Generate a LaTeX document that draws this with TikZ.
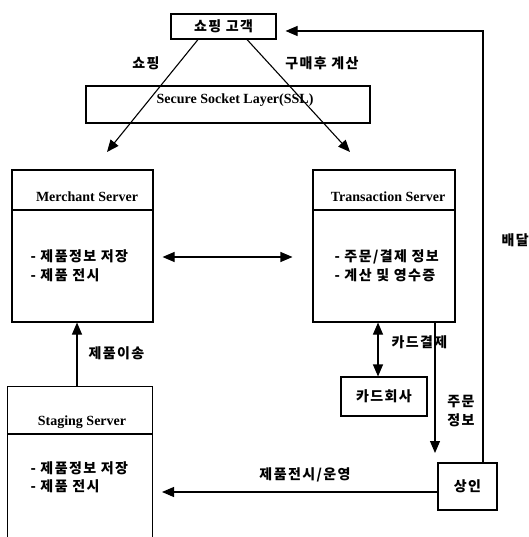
\documentclass[tikz,border=0pt]{standalone}
\usepackage{fontspec}
\setmainfont{Liberation Serif}
\newfontfamily\kr[LetterSpace=10]{Noto Sans CJK KR}
\usetikzlibrary{arrows.meta}

\tikzset{
  box/.style={draw, line width=1.1pt, inner sep=0pt},
  title/.style={font=\bfseries\fontsize{14}{16}\selectfont},
  kor/.style={font=\kr\bfseries\fontsize{14}{18.5}\selectfont},
  arr/.style={line width=1.1pt, -{Triangle[length=12pt,width=10pt]}},
  arrboth/.style={line width=1.1pt, {Triangle[length=12pt,width=10pt]}-{Triangle[length=12pt,width=10pt]}}
}

\begin{document}
\begin{tikzpicture}[x=1pt,y=-1pt]
    \useasboundingbox (0,0) rectangle (528,537);

    \node [box, kor, minimum width=105pt, minimum height=25pt] (customer) at (223.5,26.5) {쇼핑 고객};
    \node [box, minimum width=284pt, minimum height=37pt] (ssl) at (228,104.5) {};
    \node [title] (ssltext) at (235,100) {Secure Socket Layer(SSL)};

    \node [box, minimum width=141pt, minimum height=152pt] (merchant) at (82.5,246) {};
    \draw [line width=1.1pt] (merchant.west |- 0,210) -- (merchant.east |- 0,210);
    \node [title] (mtitle) at (87,197) {Merchant Server};
    \node [kor, anchor=west, align=left] (mtext) at (27,266) {- 제품정보 저장\\- 제품 전시};

    \node [box, minimum width=142pt, minimum height=152pt] (transaction) at (384,246) {};
    \draw [line width=1.1pt] (transaction.west |- 0,210) -- (transaction.east |- 0,210);
    \node [title] (ttitle) at (388,197) {Transaction Server};
    \node [kor, anchor=west, align=left] (ttext) at (331,266) {- 주문/결제 정보\\- 계산 및 영수증};

    \node [box, kor, minimum width=86pt, minimum height=39pt] (cardco) at (384,396.5) {카드회사};
    \node [box, kor, minimum width=59pt, minimum height=47pt] (seller) at (467.5,486.5) {상인};

    \node [minimum width=144pt, minimum height=150pt, inner sep=0pt] (staging) at (80,462) {};
    \draw [line width=1.1pt] (staging.south west) -- (staging.north west) -- (staging.north east) -- (staging.south east);
    \draw [line width=1.1pt] (staging.west |- 0,434) -- (staging.east |- 0,434);
    \node [title] (stitle) at (82,422) {Staging Server};
    \node [kor, anchor=west, align=left] (stext) at (27,477.5) {- 제품정보 저장\\- 제품 전시};

    \coordinate (shopEnd) at (107,152);
    \coordinate (payEnd) at (350,152);
    \draw [arr] ([xshift=-25.5pt]customer.south) -- (shopEnd);
    \draw [arr] ([xshift=23.5pt]customer.south) -- (payEnd);
    \node [kor] (shoplabel) at (146,63) {쇼핑};
    \node [kor] (paylabel) at (322,63) {구매후 계산};

    \draw [arrboth] ([shift={(9,11)}]merchant.east) -- ([shift={(-20,11)}]transaction.west);

    \draw [arr] ([xshift=-3pt]staging.north) -- ([xshift=-3pt]staging.north |- merchant.south);
    \node [kor, anchor=west] (movelabel) at (85,353) {제품이송};

    \draw [arrboth] ([xshift=-6pt]cardco.north) -- ([xshift=-6pt]cardco.north |- transaction.south);
    \node [kor, anchor=west] (cardlabel) at (388,342) {카드결제};

    \coordinate (orderEnd) at (435,453);
    \draw [arr] (orderEnd |- transaction.south) -- (orderEnd);
    \node [kor, align=center] (orderlabel) at (461,411) {주문\\정보};

    \coordinate (deliverTurn) at (483,31);
    \draw [arr] ([xshift=15.5pt]seller.north) -- (deliverTurn) -- ([xshift=9pt]customer.east |- deliverTurn);
    \node [kor, anchor=west] (deliverlabel) at (498,240) {배달};

    \coordinate (displayEnd) at (162,492);
    \draw [arr] (seller.west |- displayEnd) -- (displayEnd);
    \node [kor] (displaylabel) at (305,475) {제품전시/운영};
\end{tikzpicture}
\end{document}
